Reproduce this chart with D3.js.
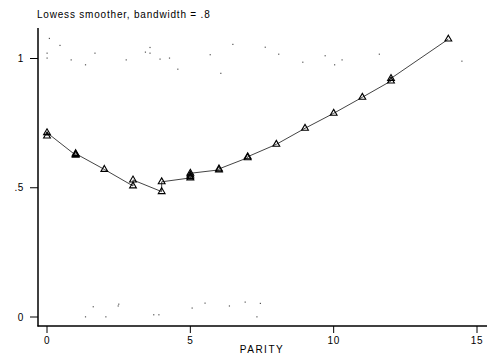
<!DOCTYPE html>
<html>
<head>
<meta charset="utf-8">
<script src="https://cdn.jsdelivr.net/npm/d3@7"></script>
<style>
  body { margin: 0; background: #fff; }
  text { font-family: "Liberation Sans", Arial, sans-serif; fill: #000; }
</style>
</head>
<body>
<svg id="chart"></svg>
<script>
// jittered observations (parity, outcome)
const obsX = [0.08, 0.45, 0.0, 0.0, 0.84, 1.34, 1.67, 2.76, 3.43, 3.59, 3.59, 3.94, 4.27, 4.56,
  5.69, 6.48, 6.06, 7.61, 8.08, 8.92, 9.70, 10.29, 10.03, 11.59, 14.47,
  1.61, 1.34, 2.05, 2.50, 2.48, 3.72, 3.90, 5.06, 5.51, 6.36, 6.91, 7.44, 7.32];
const obsY = [1.078, 1.051, 1.021, 1.002, 0.995, 0.976, 1.021, 0.995, 1.025, 1.043, 1.021, 0.998, 1.002, 0.959,
  1.015, 1.055, 0.943, 1.044, 1.017, 0.986, 1.011, 0.995, 0.976, 1.017, 0.990,
  0.040, 0.001, 0.001, 0.050, 0.043, 0.009, 0.009, 0.035, 0.054, 0.043, 0.058, 0.053, 0.001];

// lowess smoothed values
const smoothX = [0, 0, 1, 1, 1, 2, 3, 3, 4, 4, 5, 5, 5, 5, 6, 6, 7, 7, 8, 9, 10, 11, 12, 12, 14];
const smoothY = [0.700, 0.713, 0.626, 0.629, 0.632, 0.571, 0.507, 0.530, 0.485, 0.523,
  0.538, 0.543, 0.549, 0.556, 0.569, 0.573, 0.616, 0.620, 0.668, 0.730, 0.788, 0.850, 0.913, 0.923, 1.075];

const xTicks = [0, 5, 10, 15];
const yTicks = [0, 0.5, 1];
const yTickLabels = ['0', '.5', '1'];

const W = 496, H = 355;
const svg = d3.select('#chart').attr('width', W).attr('height', H);

const x = d3.scaleLinear().domain([0, 15]).range([47, 477]);
const y = d3.scaleLinear().domain([0, 1]).range([317, 58.5]);

// axis lines (Stata style: offset from data range)
svg.append('line').attr('x1', 38).attr('x2', 38).attr('y1', 28).attr('y2', 326.5)
  .attr('stroke', '#000').attr('stroke-width', 1.5);
svg.append('line').attr('x1', 37.5).attr('x2', 487).attr('y1', 326).attr('y2', 326)
  .attr('stroke', '#000').attr('stroke-width', 1.5);

// y ticks
const yAxisG = svg.append('g');
yAxisG.selectAll('line').data(yTicks).join('line')
  .attr('x1', 30).attr('x2', 38)
  .attr('y1', d => y(d)).attr('y2', d => y(d))
  .attr('stroke', '#000').attr('stroke-width', 1);
yAxisG.selectAll('text').data(yTicks).join('text')
  .attr('x', 24).attr('y', d => y(d) + 3.5)
  .attr('text-anchor', 'end').attr('font-size', 10).attr('letter-spacing', 0.6)
  .text((d, i) => yTickLabels[i]);

// x ticks
const xAxisG = svg.append('g');
xAxisG.selectAll('line').data(xTicks).join('line')
  .attr('x1', d => x(d)).attr('x2', d => x(d))
  .attr('y1', 326).attr('y2', 333)
  .attr('stroke', '#000').attr('stroke-width', 1);
xAxisG.selectAll('text').data(xTicks).join('text')
  .attr('x', d => x(d)).attr('y', 344)
  .attr('text-anchor', 'middle').attr('font-size', 10).attr('letter-spacing', 0.6)
  .text(d => d);

svg.append('text').attr('x', 262).attr('y', 353)
  .attr('text-anchor', 'middle').attr('font-size', 10).attr('letter-spacing', 1.5)
  .text('PARITY');

svg.append('text').attr('x', 37).attr('y', 18)
  .attr('font-size', 10).attr('letter-spacing', 0.8)
  .text('Lowess smoother, bandwidth = .8');

// scatter dots
svg.append('g').selectAll('rect').data(obsX).join('rect')
  .attr('x', (d, i) => x(d) - 0.5)
  .attr('y', (d, i) => y(obsY[i]) - 0.5)
  .attr('width', 1.2).attr('height', 1.2)
  .attr('fill', '#555');

// smooth line
const pts = smoothX.map((d, i) => [d, smoothY[i]]);
svg.append('path')
  .attr('d', d3.line().x(d => x(d[0])).y(d => y(d[1]))(pts))
  .attr('fill', 'none').attr('stroke', '#444').attr('stroke-width', 1);

// triangle markers
const tri = d3.symbol().type(d3.symbolTriangle).size(20);
svg.append('g').selectAll('path').data(pts).join('path')
  .attr('d', tri)
  .attr('transform', d => `translate(${x(d[0])},${y(d[1])})`)
  .attr('fill', 'none').attr('stroke', '#000').attr('stroke-width', 1.1);
</script>
</body>
</html>
